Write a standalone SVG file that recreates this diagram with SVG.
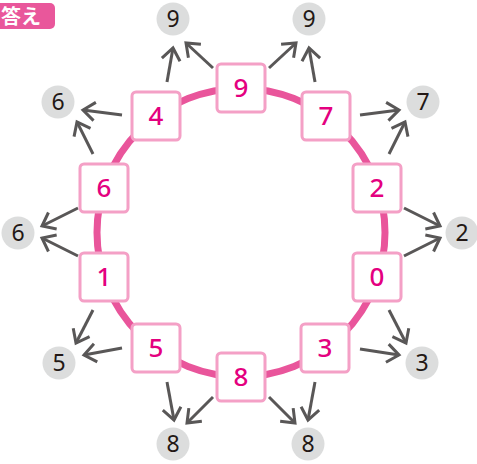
<svg xmlns="http://www.w3.org/2000/svg" width="477" height="464" viewBox="0 0 477 464">
<style>
.box{fill:#ffffff;stroke:#f4a0c6;stroke-width:3}
.bt{font-family:"Noto Sans","DejaVu Sans",sans-serif;font-size:26px;font-weight:500;fill:#e4007f;text-anchor:middle}
.oc{fill:#dcdddd}
.ot{font-family:"Noto Sans","DejaVu Sans",sans-serif;font-size:23px;fill:#231815;text-anchor:middle}
.ar{fill:none;stroke:#595757;stroke-width:3;marker-end:url(#ah)}
</style>
<defs>
<marker id="ah" markerUnits="userSpaceOnUse" orient="auto" refX="0" refY="0" markerWidth="30" markerHeight="30" overflow="visible">
<path d="M-11.8,-9.2 L0,0 L-11.8,9.2" fill="none" stroke="#595757" stroke-width="3" stroke-linejoin="miter"/>
</marker>
</defs>
<g id="title">
<rect x="-10" y="3" width="65" height="26" rx="5" fill="#e9579b"/>
<text x="1" y="24" font-family="Noto Sans CJK JP, sans-serif" font-size="20" font-weight="bold" fill="#ffffff">答え</text>
</g>
<circle id="ring" cx="241" cy="232.5" r="144" fill="none" stroke="#e9559b" stroke-width="7"/>
<g id="connectors">
<path class="ar" d="M213,68 L186,43"/>
<path class="ar" d="M167,82 L173,48"/>
<path class="ar" d="M269,68 L296,43"/>
<path class="ar" d="M315,82 L309,48"/>
<path class="ar" d="M122,115 L83,110"/>
<path class="ar" d="M93,154 L77,122"/>
<path class="ar" d="M360,115 L399,110"/>
<path class="ar" d="M389,154 L405,122"/>
<path class="ar" d="M78,208 L42,226"/>
<path class="ar" d="M78,256 L42,238"/>
<path class="ar" d="M404,208 L440,226"/>
<path class="ar" d="M404,256 L440,238"/>
<path class="ar" d="M93,310 L76,343"/>
<path class="ar" d="M122,348 L84,355"/>
<path class="ar" d="M389,310 L406,343"/>
<path class="ar" d="M360,349 L399,355"/>
<path class="ar" d="M167,382 L174,420"/>
<path class="ar" d="M213,397 L187,423"/>
<path class="ar" d="M269,397 L295,423"/>
<path class="ar" d="M315,382 L308,420"/>
</g>
<g id="box9"><rect class="box" x="217" y="64" width="48" height="48" rx="4"/><text class="bt" x="241" y="97">9</text></g>
<g id="box7"><rect class="box" x="302" y="92" width="48" height="48" rx="4"/><text class="bt" x="326" y="125">7</text></g>
<g id="box2"><rect class="box" x="353" y="164" width="48" height="48" rx="4"/><text class="bt" x="377" y="197">2</text></g>
<g id="box0"><rect class="box" x="353" y="253" width="48" height="48" rx="4"/><text class="bt" x="377" y="286">0</text></g>
<g id="box3"><rect class="box" x="301" y="324" width="48" height="48" rx="4"/><text class="bt" x="325" y="357">3</text></g>
<g id="box8"><rect class="box" x="217" y="353" width="48" height="48" rx="4"/><text class="bt" x="241" y="386">8</text></g>
<g id="box5"><rect class="box" x="132" y="324" width="48" height="48" rx="4"/><text class="bt" x="156" y="357">5</text></g>
<g id="box1"><rect class="box" x="80" y="253" width="48" height="48" rx="4"/><text class="bt" x="104" y="286">1</text></g>
<g id="box6"><rect class="box" x="80" y="164" width="48" height="48" rx="4"/><text class="bt" x="104" y="197">6</text></g>
<g id="box4"><rect class="box" x="132" y="92" width="48" height="48" rx="4"/><text class="bt" x="156" y="125">4</text></g>
<g id="out9a"><circle class="oc" cx="173" cy="19" r="16.5"/><text class="ot" x="173" y="27">9</text></g>
<g id="out9b"><circle class="oc" cx="309" cy="19" r="16.5"/><text class="ot" x="309" y="27">9</text></g>
<g id="out7"><circle class="oc" cx="423" cy="102" r="16.5"/><text class="ot" x="423" y="110">7</text></g>
<g id="out2"><circle class="oc" cx="462" cy="233" r="16.5"/><text class="ot" x="462" y="241">2</text></g>
<g id="out3"><circle class="oc" cx="422" cy="363" r="16.5"/><text class="ot" x="422" y="371">3</text></g>
<g id="out8b"><circle class="oc" cx="308" cy="444" r="16.5"/><text class="ot" x="308" y="452">8</text></g>
<g id="out8a"><circle class="oc" cx="173" cy="444" r="16.5"/><text class="ot" x="173" y="452">8</text></g>
<g id="out5"><circle class="oc" cx="59" cy="363" r="16.5"/><text class="ot" x="59" y="371">5</text></g>
<g id="out6b"><circle class="oc" cx="18" cy="233" r="16.5"/><text class="ot" x="18" y="241">6</text></g>
<g id="out6a"><circle class="oc" cx="58" cy="102" r="16.5"/><text class="ot" x="58" y="110">6</text></g>
</svg>
